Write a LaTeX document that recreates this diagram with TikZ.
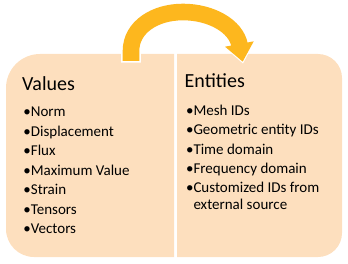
\documentclass[tikz,border=0pt]{standalone}
\usepackage{fontspec}
\setmainfont{Carlito}
\usetikzlibrary{arrows.meta}
\definecolor{boxfill}{RGB}{253,223,190}
\definecolor{arrowcol}{RGB}{253,183,30}
\begin{document}
\begin{tikzpicture}[x=1pt,y=1pt,
  title/.style={anchor=base west,inner sep=0pt,font=\fontsize{20}{24}\selectfont},
  item/.style={anchor=base west,inner sep=0pt,font=\fontsize{15}{18}\selectfont}]
\useasboundingbox (0,0) rectangle (348,263);
% boxes
\fill[boxfill] (174,6) -- (174,209) -- (40,209) arc[start angle=90,end angle=180,radius=34]
  -- (6,34) arc[start angle=180,end angle=270,radius=28] -- cycle;
\fill[boxfill] (177,209) -- (318,209) arc[start angle=90,end angle=0,radius=24]
  -- (342,30) arc[start angle=0,end angle=-90,radius=24] -- (177,6) -- cycle;
% arrow
\coordinate (as) at (131,202);
\coordinate (ae) at (242.7,201.3);
\coordinate (aswhite) at (131,200.3);
\coordinate (aewhite) at (243,199.4);
\draw[white,line width=19.6pt,-{Triangle[width=32pt,length=21pt]}]
  (aswhite) -- (131,212) .. controls (131,236) and (155,251) .. (183,251)
  .. controls (211,251) and (236,237) .. (aewhite);
\draw[arrowcol,line width=16.6pt,-{Triangle[width=28pt,length=18pt]}]
  (as) -- (131,212) .. controls (131,236) and (155,251) .. (183,251)
  .. controls (211,251) and (236,237) .. (ae);
% titles
\node[title] (tv) at (22,172.5) {Values};
\node[title] (te) at (184.5,175.2) {Entities};
% left items
\node[item] (l1) at (30.7,146.5) {\llap{•}Norm};
\node[item] (l2) at (30.7,126.95) {\llap{•}Displacement};
\node[item] (l3) at (30.7,107.4) {\llap{•}Flux};
\node[item] (l4) at (30.7,87.85) {\llap{•}Maximum Value};
\node[item] (l5) at (30.7,68.3) {\llap{•}Strain};
\node[item] (l6) at (30.7,48.75) {\llap{•}Tensors};
\node[item] (l7) at (30.7,29.2) {\llap{•}Vectors};
% right items
\node[item] (r1) at (193.3,148) {\llap{•}Mesh IDs};
\node[item] (r2) at (193.3,128.7) {\llap{•}Geometric entity IDs};
\node[item] (r3) at (193.3,109) {\llap{•}Time domain};
\node[item] (r4) at (193.3,89.7) {\llap{•}Frequency domain};
\node[item] (r5) at (193.3,70.3) {\llap{•}Customized IDs from};
\node[item] (r6) at (193.3,54) {external source};
\end{tikzpicture}
\end{document}
